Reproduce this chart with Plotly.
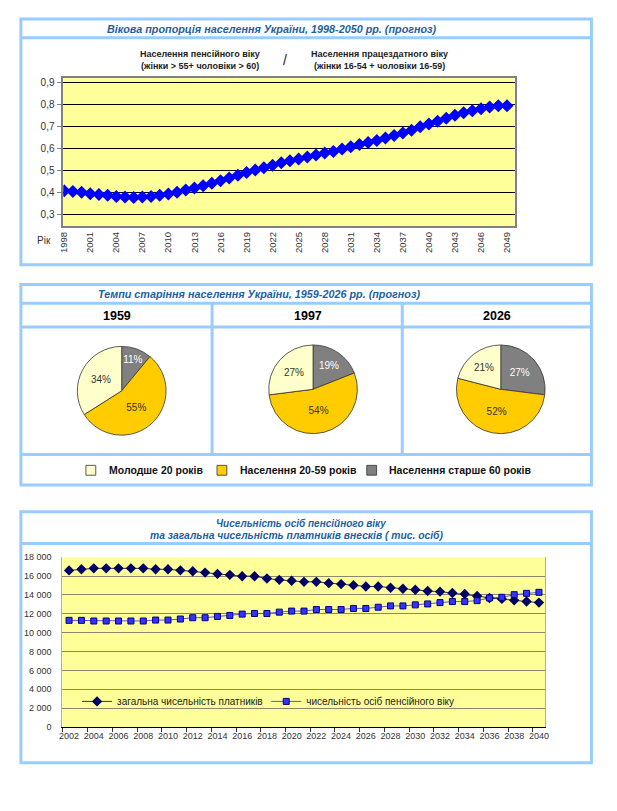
import plotly.graph_objects as go

W, H = 617, 811
OX, OY = 8, 8   # page body margin compensation
def px(x): return (x - OX) / W
def py(y): return 1 - (y - OY) / H

FONT = "Liberation Sans"
TITLE_BLUE = "#1f5f9f"
BORDER = "#99CCFF"

# ---------------- Chart 1: age ratio ----------------
years1 = list(range(1998, 2050))
ratio = [0.409, 0.406, 0.402, 0.395, 0.392, 0.388, 0.383, 0.381, 0.378, 0.381,
         0.383, 0.388, 0.394, 0.402, 0.412, 0.421, 0.432, 0.443, 0.454, 0.467,
         0.479, 0.492, 0.503, 0.513, 0.525, 0.536, 0.545,
         0.553, 0.562, 0.571, 0.580, 0.587, 0.598, 0.608, 0.619, 0.628, 0.637,
         0.648, 0.659, 0.671, 0.683, 0.699, 0.711, 0.724, 0.738, 0.751, 0.762,
         0.772, 0.781, 0.788, 0.794, 0.794]
y1_ticks = [0.3, 0.4, 0.5, 0.6, 0.7, 0.8, 0.9]

# ---------------- Chart 2: pies ----------------
pie_years = ["1959", "1997", "2026"]
pie_labels = ["Населення старше 60 років", "Населення 20-59 років", "Молодше 20 років"]
share_old = [11, 19, 27]
share_work = [55, 54, 52]
share_young = [34, 27, 21]
pie_colors = ["#808080", "#FFCC00", "#FFFFCC"]
legend_order = ["Молодше 20 років", "Населення 20-59 років", "Населення старше 60 років"]
legend_colors = ["#FFFFCC", "#FFCC00", "#808080"]

# ---------------- Chart 3: counts ----------------
years3 = list(range(2002, 2041))
payers = [16600, 16720, 16820, 16820, 16820, 16820, 16820, 16720, 16720, 16610,
          16510, 16370, 16230, 16130, 15990, 15990, 15740, 15600, 15500, 15390,
          15390, 15250, 15150, 15040, 14900, 14900, 14760, 14660, 14560, 14420,
          14350, 14210, 14100, 13890, 13680, 13580, 13440, 13300, 13190]
pensioners = [11310, 11310, 11240, 11240, 11240, 11240, 11240, 11340, 11340, 11450,
              11590, 11590, 11730, 11830, 11970, 12040, 12040, 12180, 12290, 12290,
              12460, 12460, 12460, 12570, 12570, 12700, 12840, 12840, 12950, 13050,
              13190, 13300, 13300, 13400, 13680, 13750, 14030, 14170, 14280]
payers_name = "загальна чисельність платників"
pens_name = "чисельність осіб пенсійного віку"

fig = go.Figure()

# Chart 1 trace
fig.add_trace(go.Scatter(
    x=years1, y=ratio, mode="lines+markers", xaxis="x", yaxis="y",
    line=dict(color="#0000FF", width=2),
    marker=dict(symbol="diamond", size=10, color="#0000FF"),
    showlegend=False, hoverinfo="skip"))

# Pies
pie_centers = [(118.3, 390.5), (312.5, 389), (503, 389)]
R = 45
for i, (cx, cy) in enumerate(pie_centers):
    fig.add_trace(go.Pie(
        labels=pie_labels,
        values=[share_old[i], share_work[i], share_young[i]],
        domain=dict(x=[px(cx - R), px(cx + R)], y=[py(cy + R), py(cy - R)]),
        sort=False, direction="clockwise", rotation=0,
        marker=dict(colors=pie_colors, line=dict(color="#333333", width=0.8)),
        texttemplate="%{value}%", textposition="inside",
        insidetextorientation="horizontal",
        textfont=dict(family=FONT, size=10, color=["#FFFFFF", "#333333", "#333333"]),
        showlegend=False, hoverinfo="skip"))

# Chart 3 traces
fig.add_trace(go.Scatter(
    x=years3, y=payers, mode="lines+markers", name=payers_name,
    xaxis="x2", yaxis="y2", legend="legend",
    line=dict(color="#333333", width=1),
    marker=dict(symbol="diamond", size=8, color="#000066"),
    hoverinfo="skip"))
fig.add_trace(go.Scatter(
    x=years3, y=pensioners, mode="lines+markers", name=pens_name,
    xaxis="x2", yaxis="y2", legend="legend2",
    line=dict(color="#5555dd", width=1),
    marker=dict(symbol="square", size=6, color="#3333FF",
                line=dict(color="#000080", width=1)),
    hoverinfo="skip"))

shapes = []
def rect(x0, y0, x1, y1, **kw):
    shapes.append(dict(type="rect", xref="paper", yref="paper",
                       x0=px(x0), x1=px(x1), y0=py(y1), y1=py(y0), **kw))
def hline(x0, x1, y):
    shapes.append(dict(type="line", xref="paper", yref="paper",
                       x0=px(x0), x1=px(x1), y0=py(y), y1=py(y),
                       line=dict(color=BORDER, width=3)))
def vline(x, y0, y1):
    shapes.append(dict(type="line", xref="paper", yref="paper",
                       x0=px(x), x1=px(x), y0=py(y0), y1=py(y1),
                       line=dict(color=BORDER, width=3)))

# Panel frames
rect(16, 14, 595, 263, line=dict(color=BORDER, width=3))
hline(16, 595, 33)
rect(16, 283, 595, 486, line=dict(color=BORDER, width=3))
hline(16, 595, 302)
hline(16, 595, 326)
hline(16, 595, 455)
vline(210, 302, 455)
vline(403, 302, 455)
rect(16, 513, 595, 767, line=dict(color=BORDER, width=3))
hline(16, 595, 545)

ann = []
def text(x, y, s, size=10, color="#222222", bold=False, italic=False, xanchor="center"):
    t = s
    if bold:
        t = "<b>" + t + "</b>"
    if italic:
        t = "<i>" + t + "</i>"
    ann.append(dict(x=px(x), y=py(y), xref="paper", yref="paper", text=t,
                    showarrow=False, xanchor=xanchor, yanchor="middle",
                    font=dict(family=FONT, size=size, color=color)))

# Titles
text(271, 24, "Вікова пропорція населення України, 1998-2050 рр. (прогноз)", size=10.8,
     color=TITLE_BLUE, bold=True, italic=True)
text(198, 50, "Населення пенсійного віку", size=9, bold=True)
text(198, 62, "(жінки > 55+ чоловіки > 60)", size=9, bold=True)
text(284, 56, "/", size=14, bold=False)
text(380, 50, "Населення працездатного віку", size=9, bold=True)
text(380, 62, "(жінки 16-54 + чоловіки 16-59)", size=9, bold=True)
text(39, 238, "Рік", size=10, color="#333333")

text(258, 293, "Темпи старіння населення України, 1959-2026 рр. (прогноз)", size=10.8,
     color=TITLE_BLUE, bold=True, italic=True)
for cx, yr in zip([114, 307, 499], pie_years):
    text(cx, 315, yr, size=12.5, color="#000000", bold=True)

# Middle legend
leg_sq_x = [87, 220, 372]
for sx, lab, col in zip(leg_sq_x, legend_order, legend_colors):
    rect(sx - 5, 466, sx + 5, 476, fillcolor=col, line=dict(color="#333333", width=0.8))
    text(sx + 16, 471, lab, size=10.5, color="#111111", bold=True, xanchor="left")

text(300, 525, "Чисельність осіб пенсійного віку", size=10,
     color=TITLE_BLUE, bold=True, italic=True)
text(296, 537, "та загальна чисельність платників внесків ( тис. осіб)", size=10.3,
     color=TITLE_BLUE, bold=True, italic=True)

fig.update_layout(
    width=W, height=H, margin=dict(l=0, r=0, t=0, b=0),
    paper_bgcolor="white", plot_bgcolor="#FFFF99",
    separators=", ",
    font=dict(family=FONT, size=10, color="#333333"),
    shapes=shapes, annotations=ann,
    xaxis=dict(domain=[px(59), px(517)], anchor="y", range=[1997.89, 2049.87],
               tickvals=years1[::3], tickformat="d", tickangle=-90,
               tickfont=dict(size=9.5, color="#333333"),
               showgrid=False, zeroline=False,
               showline=True, linecolor="#808080", linewidth=1.5, mirror=True),
    yaxis=dict(domain=[py(224), py(74)], anchor="x", range=[0.2476, 0.919],
               tickvals=y1_ticks, tickformat=".1f",
               tickfont=dict(size=10, color="#333333"),
               ticks="outside", ticklen=5, tickcolor="#808080",
               showgrid=True, gridcolor="#000000", gridwidth=1, zeroline=False,
               showline=True, linecolor="#808080", linewidth=1.5, mirror=True),
    xaxis2=dict(domain=[px(58), px(548)], anchor="y2", range=[2001.45, 2040.5],
                tickvals=years3[::2], tickformat="d", ticks="",
                tickfont=dict(size=9, color="#333333"),
                minor=dict(tickvals=[y - 0.5 for y in years3[::2]], ticks="outside",
                           ticklen=4, tickcolor="#333333", showgrid=False),
                showgrid=False, zeroline=False,
                showline=True, linecolor="#000000", linewidth=1),
    yaxis2=dict(domain=[py(731), py(559)], anchor="x2", range=[0, 18000],
                dtick=2000, tickformat=",d",
                tickfont=dict(size=9, color="#333333"),
                ticks="", ticklabelstandoff=8,
                showgrid=True, gridcolor="#8a8a6a", gridwidth=1, zeroline=False,
                showline=True, linecolor="#b0b0a0", linewidth=1, mirror=True),
    legend=dict(x=px(73), y=py(705), xanchor="left", yanchor="middle",
                orientation="h", bgcolor="rgba(0,0,0,0)",
                font=dict(family=FONT, size=10, color="#222222")),
    legend2=dict(x=px(265), y=py(705), xanchor="left", yanchor="middle",
                 orientation="h", bgcolor="rgba(0,0,0,0)",
                 font=dict(family=FONT, size=10, color="#222222")),
)

fig.write_html("out.html")
